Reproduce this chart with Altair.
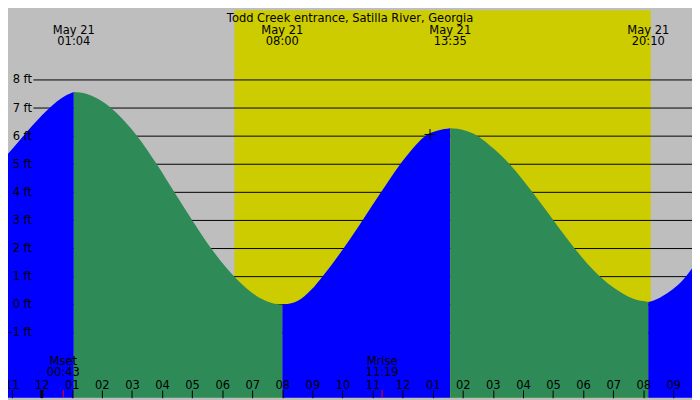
import altair as alt
import pandas as pd

W, H = 692, 392
SX, SY = W / 700, H / 400

FONT = "DejaVu Sans"
FS = 11.6
GRAY = "#bebebe"
YELLOW = "#cccc00"
BLUE = "#0000ff"
GREEN = "#2e8b57"

TITLE = "Todd Creek entrance, Satilla River, Georgia"
DATE = "May 21"

# time axis: hours after midnight, May 21
X_MIN, X_MAX = -1.121, 21.621
Y_MIN, Y_MAX = -3.31, 10.48

hour_ticks = list(range(-1, 22))
hour_labels = ["11", "12", "01", "02", "03", "04", "05", "06", "07", "08", "09", "10",
               "11", "12", "01", "02", "03", "04", "05", "06", "07", "08", "09"]
ft_ticks = [-1, 0, 1, 2, 3, 4, 5, 6, 7, 8]

# tide curve (hours, feet), one list per rising/falling stretch
rise_1_h = [-1.121, -0.796, -0.471, -0.146, 0.179, 0.504, 0.828, 1.067]
rise_1_ft = [5.37, 5.77, 6.18, 6.57, 6.92, 7.23, 7.46, 7.57]
fall_1_h = [1.067, 1.478, 1.803, 2.128, 2.323, 2.778, 3.177, 3.827, 4.412, 5.010,
            5.637, 6.407, 7.001, 7.651, 8.0]
fall_1_ft = [7.57, 7.51, 7.37, 7.15, 6.98, 6.50, 6.00, 5.00, 4.00, 3.00,
             2.00, 1.00, 0.42, 0.06, 0.0]
rise_2_h = [8.0, 8.519, 8.951, 9.331, 10.032, 10.663, 11.280, 11.917, 12.330, 12.742,
            13.174, 13.583]
rise_2_ft = [0.0, 0.14, 0.52, 1.00, 2.00, 3.00, 4.00, 5.00, 5.55, 6.00,
             6.20, 6.28]
fall_2_h = [13.583, 13.826, 14.150, 14.501, 15.030, 15.560, 16.320, 17.018, 17.723,
            18.372, 18.590, 19.022, 19.672, 20.167]
fall_2_ft = [6.28, 6.26, 6.17, 6.00, 5.55, 5.00, 4.00, 3.00, 2.00,
             1.20, 0.98, 0.60, 0.21, 0.10]
rise_3_h = [20.167, 20.322, 20.646, 20.971, 21.296, 21.621]
rise_3_ft = [0.10, 0.14, 0.31, 0.54, 0.85, 1.29]

# highs and lows
event_h = [1.067, 8.0, 13.583, 20.167]
event_time = ["01:04", "08:00", "13:35", "20:10"]

# daylight
sunrise_h, sunset_h = 6.407, 20.25

# moon
moon_h = [0.717, 11.317]
moon_name = ["Mset", "Mrise"]
moon_time = ["00:43", "11:19"]

# current position marker
now_h, now_ft = 12.91, 6.06

segments = [
    ("rise", rise_1_h, rise_1_ft),
    ("fall", fall_1_h, fall_1_ft),
    ("rise", rise_2_h, rise_2_ft),
    ("fall", fall_2_h, fall_2_ft),
    ("rise", rise_3_h, rise_3_ft),
]
rows = []
for i, (phase, hs, fts) in enumerate(segments):
    for h, ft in zip(hs, fts):
        rows.append({"h": h, "ft": ft, "phase": phase, "seg": i})
tide = pd.DataFrame(rows)

events = pd.DataFrame({"h": event_h, "date": DATE, "time": event_time})
moon = pd.DataFrame({"h": moon_h, "name": moon_name, "time": moon_time})
day = pd.DataFrame({"start": [sunrise_h], "end": [sunset_h]})
grid = pd.DataFrame({"ft": ft_ticks})
midnight = pd.DataFrame({"h": [0]})
now = pd.DataFrame({"h": [now_h], "ft": [now_ft]})
title = pd.DataFrame({"text": [TITLE]})

xs = alt.Scale(domain=[X_MIN, X_MAX], nice=False, zero=False)
ys = alt.Scale(domain=[Y_MIN, Y_MAX], nice=False, zero=False)

label_expr = "[" + ",".join(f"'{l}'" for l in hour_labels) + f"][datum.value - ({hour_ticks[0]})]"

# the same axis objects go in every layer: an axis=None in one layer switches the shared axis off
x_axis = alt.Axis(
    orient="top", offset=-H, values=hour_ticks, labelExpr=label_expr,
    tickSize=8 * SY, tickColor="black", tickWidth=1, domain=False, grid=False,
    labelFlush=False, labelOverlap=False, labelFont=FONT, labelFontSize=FS,
    labelColor="black", labelPadding=2, labelBaseline="alphabetic",
    title=None, zindex=1,
)
y_axis = alt.Axis(
    orient="left", offset=-26 * SX, values=ft_ticks, labelExpr="datum.value + ' ft'",
    domain=False, ticks=False, tickSize=0, grid=False, labelPadding=2,
    labelFont=FONT, labelFontSize=FS, labelColor="black", labelOverlap=False,
    title=None, zindex=1,
)


def hx(field="h"):
    return alt.X(f"{field}:Q", scale=xs, axis=x_axis)


def fy(field="ft"):
    return alt.Y(f"{field}:Q", scale=ys, axis=y_axis)


daylight = alt.Chart(day).mark_rect(color=YELLOW).encode(
    x=hx("start"),
    x2="end:Q",
)

gridlines = alt.Chart(grid).mark_rule(color="black", strokeWidth=1).encode(
    y=fy(),
    x=alt.value(26 * SX),
    x2=alt.value(W),
)

water = alt.Chart(tide).mark_area(interpolate="monotone").encode(
    x=hx(),
    y=fy(),
    y2=alt.datum(Y_MIN),
    color=alt.Color("phase:N", scale=alt.Scale(domain=["rise", "fall"], range=[BLUE, GREEN]),
                    legend=None),
    detail="seg:N",
)

text_style = dict(font=FONT, fontSize=FS, color="black", align="center", baseline="alphabetic")

event_date = alt.Chart(events).mark_text(**text_style).encode(
    x=hx(), y=alt.value(25 * SY), text="date:N")
event_clock = alt.Chart(events).mark_text(**text_style).encode(
    x=hx(), y=alt.value(36 * SY), text="time:N")

moon_name_t = alt.Chart(moon).mark_text(**text_style).encode(
    x=hx(), y=alt.value(366.5 * SY), text="name:N")
moon_clock = alt.Chart(moon).mark_text(**text_style).encode(
    x=hx(), y=alt.value(378 * SY), text="time:N")
moon_ticks = alt.Chart(moon).mark_rule(color="red", strokeWidth=1).encode(
    x=hx(), y=alt.value(H - 8 * SY), y2=alt.value(H))

midnight_tick = alt.Chart(midnight).mark_rule(color="black", strokeWidth=3).encode(
    x=hx(), y=alt.value(H - 8 * SY), y2=alt.value(H))

now_mark = alt.Chart(now).mark_point(
    shape="M-1,0L1,0M0,-1L0,1", filled=False, color="black", strokeWidth=1,
    size=121, opacity=1,
).encode(x=hx(), y=fy())

title_t = alt.Chart(title).mark_text(**text_style).encode(
    x=alt.value(W / 2), y=alt.value(12 * SY), text="text:N")

chart = (
    alt.layer(
        daylight, gridlines, water, midnight_tick, moon_ticks,
        event_date, event_clock, moon_name_t, moon_clock, now_mark, title_t,
    )
    .properties(width=W, height=H, padding=0, autosize="none", background=GRAY)
    .configure_view(fill=GRAY, stroke=None)
)

chart.save("out.html", embed_options={"renderer": "svg", "actions": False})
